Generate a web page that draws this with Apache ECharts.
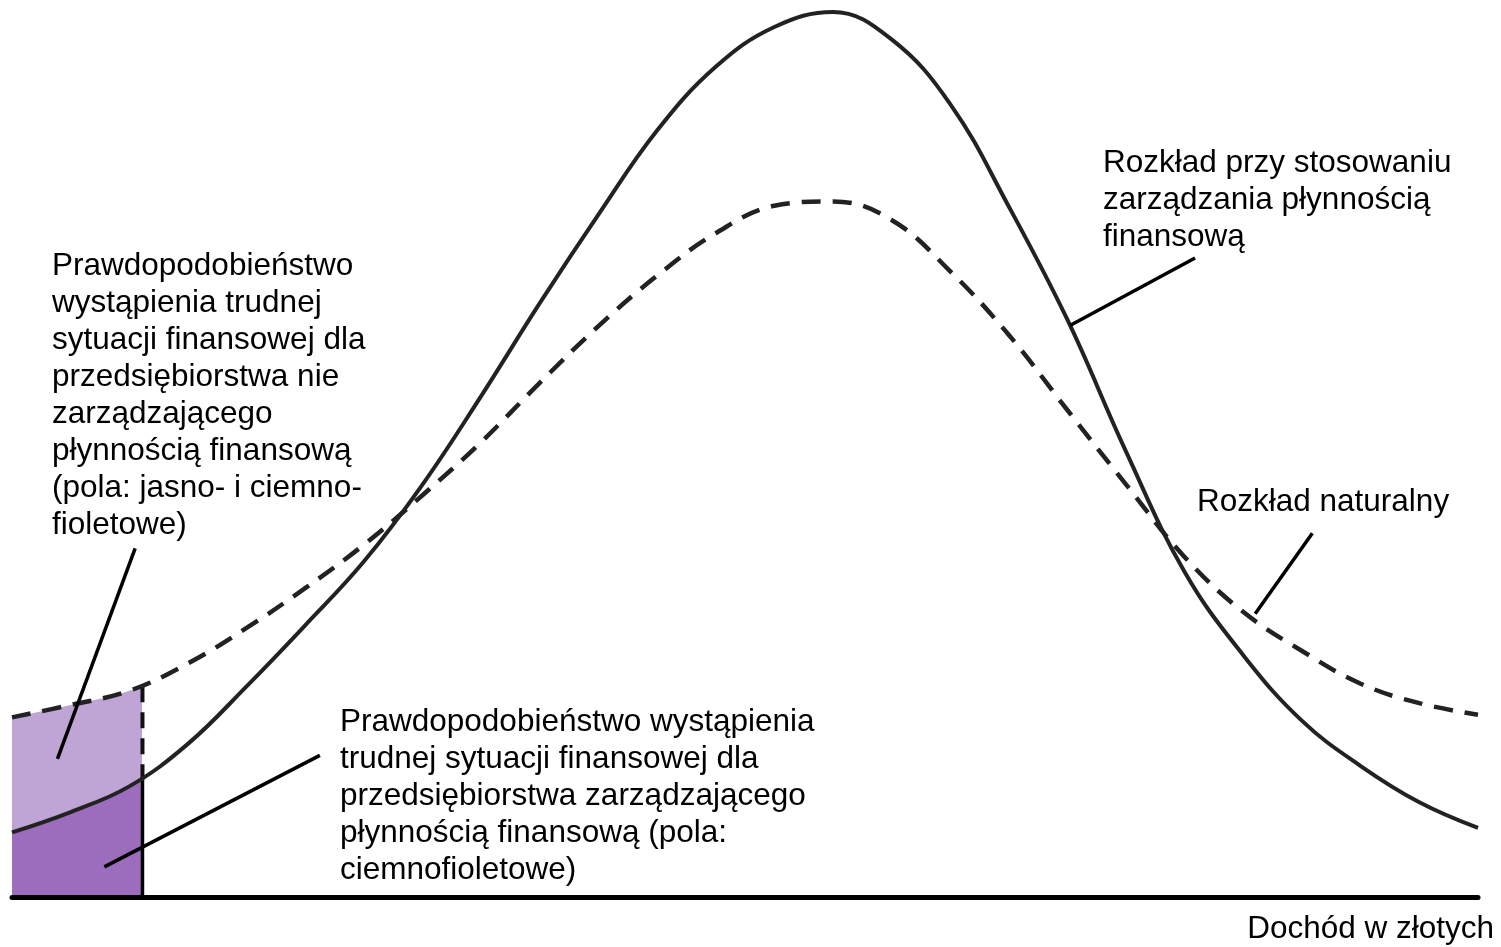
<!DOCTYPE html>
<html>
<head>
<meta charset="utf-8">
<script src="https://cdn.jsdelivr.net/npm/echarts@6/dist/echarts.min.js"></script>
<style>
html,body{margin:0;padding:0;background:#fff;}
#chart{width:1501px;height:947px;}
</style>
</head>
<body>
<div id="chart"></div>
<script>
// Income (x, 0..100) and density (y, 0..100)
const income = [0, 4, 8, 12, 16, 20, 24, 28, 32, 36, 40, 44, 48, 52, 56, 60, 64, 68, 72, 76, 80, 84, 88, 92, 96, 100];
const managedDensity = [7.3, 9.6, 12.5, 17.3, 23.8, 30.7, 37.9, 46.6, 56.6, 67.1, 77.1, 86.6, 93.8, 98.3, 100.0, 96.9, 89.6, 78.0, 65.2, 50.3, 36.7, 27.3, 19.9, 14.8, 10.7, 7.8];
const naturalDensity = [20.3, 21.7, 23.3, 26.4, 30.4, 34.9, 39.8, 45.4, 51.4, 58.1, 64.5, 70.2, 75.0, 78.1, 78.6, 76.5, 70.7, 63.5, 55.0, 46.6, 38.4, 32.2, 27.8, 24.1, 21.9, 20.6];
// threshold income and curve heights read there
const threshold = 8.9;
const managedAtThreshold = 13.2;
const naturalAtThreshold = 23.8;
// leader lines [x1, y1, x2, y2] in data units
const leaderLines = [
  [8.4, 39.4, 3.1, 15.6],
  [21.0, 16.0, 6.3, 3.4],
  [80.7, 72.2, 72.2, 64.6],
  [88.7, 41.1, 84.8, 32.0]
];
const labelLeft = ['Prawdopodobieństwo', 'wystąpienia trudnej', 'sytuacji finansowej dla', 'przedsiębiorstwa nie', 'zarządzającego', 'płynnością finansową', '(pola: jasno- i ciemno-', 'fioletowe)'];
const labelBottom = ['Prawdopodobieństwo wystąpienia', 'trudnej sytuacji finansowej dla', 'przedsiębiorstwa zarządzającego', 'płynnością finansową (pola:', 'ciemnofioletowe)'];
const labelManaged = ['Rozkład przy stosowaniu', 'zarządzania płynnością', 'finansową'];
const labelNatural = ['Rozkład naturalny'];
const axisName = 'Dochód w złotych';

const managed = income.map((x, i) => [x, managedDensity[i]]);
const natural = income.map((x, i) => [x, naturalDensity[i]]);

const FONT = '"Liberation Sans", Arial, sans-serif';
const FS = 31.5;
const LH = 37;
const SMOOTH = 0.4;
const text = (lines, x, y, align) => ({
  type: 'text', x: x, y: y, z: 100,
  style: { text: lines.join('\n'), font: FS + 'px ' + FONT, fill: '#000', lineHeight: LH, align: align || 'left', verticalAlign: 'top' }
});

const series = [
  { type: 'line', data: natural, smooth: SMOOTH, symbol: 'none', clip: false, z: 1,
    lineStyle: { width: 0 }, areaStyle: { opacity: 1 } },
  { type: 'line', data: managed, smooth: SMOOTH, symbol: 'none', clip: false, z: 1,
    lineStyle: { width: 0 }, areaStyle: { opacity: 1 } },
  { type: 'line', data: [[threshold, managedAtThreshold], [threshold, naturalAtThreshold]], symbol: 'none', clip: false, z: 3,
    lineStyle: { color: '#111', width: 4, type: [16, 10] } },
  { type: 'line', data: [[threshold, 0], [threshold, managedAtThreshold]], symbol: 'none', clip: false, z: 3,
    lineStyle: { color: '#000', width: 3.5 } },
  { type: 'line', data: natural, smooth: SMOOTH, symbol: 'none', clip: false, z: 4,
    lineStyle: { color: '#222', width: 4.5, type: [19, 12] } },
  { type: 'line', data: managed, smooth: SMOOTH, symbol: 'none', clip: false, z: 5,
    lineStyle: { color: '#222', width: 4 } }
];
leaderLines.forEach(l => series.push({
  type: 'line', data: [[l[0], l[1]], [l[2], l[3]]], symbol: 'none', clip: false, z: 6,
  lineStyle: { color: '#000', width: 3.5 }
}));

const chart = echarts.init(document.getElementById('chart'), null, { renderer: 'canvas' });
chart.setOption({
  animation: false,
  backgroundColor: '#fff',
  grid: { left: 12, right: 23, top: 12, bottom: 50 },
  xAxis: { type: 'value', min: 0, max: 100, z: 10,
    axisLine: { show: true, lineStyle: { color: '#000', width: 5 } },
    axisTick: { show: false }, axisLabel: { show: false }, splitLine: { show: false } },
  yAxis: { type: 'value', min: 0, max: 100, show: false, splitLine: { show: false } },
  visualMap: [
    { show: false, type: 'piecewise', seriesIndex: 0, dimension: 0,
      pieces: [{ min: 0, max: threshold, color: '#BEA5D6' }], outOfRange: { color: 'rgba(255,255,255,0)' } },
    { show: false, type: 'piecewise', seriesIndex: 1, dimension: 0,
      pieces: [{ min: 0, max: threshold, color: '#9B6DBC' }], outOfRange: { color: 'rgba(255,255,255,0)' } }
  ],
  series: series,
  graphic: [
    text(labelLeft, 52, 248),
    text(labelBottom, 340, 704),
    text(labelManaged, 1103, 145),
    text(labelNatural, 1197, 484),
    text([axisName], 1494, 911, 'right')
  ]
});
</script>
</body>
</html>
